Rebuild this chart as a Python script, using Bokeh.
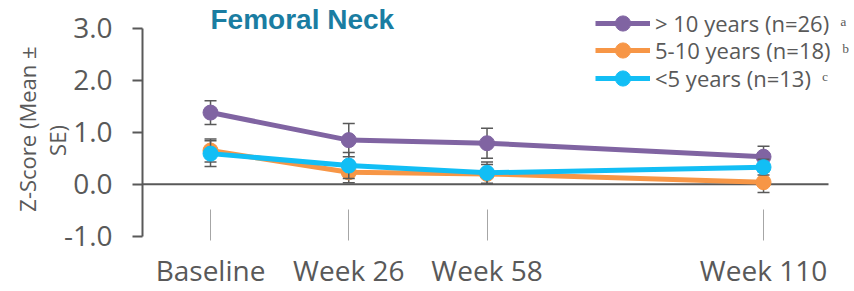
from bokeh.plotting import figure
from bokeh.models import FixedTicker, Label, Legend, LegendItem
from bokeh.embed import file_html
from bokeh.resources import INLINE

# ---- data ----
categories = ["Baseline", "Week 26", "Week 58", "Week 110"]
cat_pos = [0, 1, 2, 4]
y_ticks = [-1, 0, 1, 2, 3]
y_tick_labels = ["-1.0", "0.0", "1.0", "2.0", "3.0"]

series_labels = ["> 10 years (n=26)\u00a0\u00a0\u1d43",
                 "5-10 years (n=18)\u00a0\u00a0\u1d47",
                 "<5 years (n=13)\u00a0\u00a0\u1d9c"]
gt10_mean = [1.38, 0.85, 0.79, 0.53]
gt10_se = [0.23, 0.32, 0.29, 0.20]
mid_mean = [0.65, 0.23, 0.20, 0.04]
mid_se = [0.22, 0.20, 0.18, 0.20]
lt5_mean = [0.59, 0.36, 0.22, 0.33]
lt5_se = [0.25, 0.25, 0.21, 0.15]
series_colors = ["#8064A2", "#F79646", "#12BEF5"]

title_text = "Femoral Neck"
y_title = "Z-Score (Mean \u00b1\u00a0\u00a0\u00a0\nSE)\u00a0\u00a0\u00a0\u00a0\u00a0\u00a0\u00a0"

GRAY = "#595959"
FONT = "Open Sans"
X_START, X_END = -0.492, 4.658
ZERO_END = 4.47
LEGEND_ROW_Y = [198, 171, 143]   # screen offsets of legend rows (layout)

p = figure(width=854, height=291, x_range=(X_START, X_END), y_range=(-1.082, 3.537),
           output_backend="svg", toolbar_location=None,
           min_border_left=142, min_border_right=0, min_border_top=0, min_border_bottom=50)
p.outline_line_color = None
p.xgrid.visible = False
p.ygrid.visible = False

# zero (category axis) line
p.line([X_START, ZERO_END], [0, 0], line_color=GRAY, line_width=2)

for label, mean, se, color, ly in zip(series_labels,
                                      [gt10_mean, mid_mean, lt5_mean],
                                      [gt10_se, mid_se, lt5_se],
                                      series_colors, LEGEND_ROW_Y):
    upper = [m + s for m, s in zip(mean, se)]
    lower = [m - s for m, s in zip(mean, se)]
    lr = p.line(cat_pos, mean, line_color=color, line_width=5)
    p.segment(x0=cat_pos, y0=lower, x1=cat_pos, y1=upper, line_color=GRAY, line_width=1.5)
    p.scatter(cat_pos, upper, marker="dash", size=12, line_color=GRAY, line_width=1.5)
    p.scatter(cat_pos, lower, marker="dash", size=12, line_color=GRAY, line_width=1.5)
    mr = p.scatter(cat_pos, mean, marker="circle", size=15, fill_color=color, line_color=color)
    leg = Legend(items=[LegendItem(label=label, renderers=[lr, mr])], location=(453, ly),
                 label_text_font=FONT, label_text_font_size="22px", label_text_color=GRAY,
                 glyph_width=55, glyph_height=38, label_standoff=5, spacing=0,
                 padding=0, margin=0, border_line_color=None, background_fill_alpha=0)
    p.add_layout(leg)

# y axis
ya = p.yaxis[0]
ya.ticker = FixedTicker(ticks=y_ticks)
ya.major_label_overrides = dict(zip(y_ticks, y_tick_labels))
ya.bounds = (-1, 3)
ya.axis_line_color = GRAY
ya.axis_line_width = 2
ya.major_tick_line_color = GRAY
ya.major_tick_line_width = 2
ya.major_tick_out = 10
ya.major_tick_in = 0
ya.minor_tick_line_color = None
ya.major_label_text_font = FONT
ya.major_label_text_font_size = "28px"
ya.major_label_text_color = GRAY
ya.major_label_standoff = 20
ya.axis_label = y_title
ya.axis_label_text_font = FONT
ya.axis_label_text_font_size = "22px"
ya.axis_label_text_font_style = "normal"
ya.axis_label_text_color = GRAY
ya.axis_label_text_line_height = 1.0
ya.axis_label_standoff = -11

# x axis
xa = p.xaxis[0]
xa.ticker = FixedTicker(ticks=cat_pos)
xa.major_label_overrides = dict(zip(cat_pos, categories))
xa.axis_line_color = None
xa.major_tick_line_color = "#A6A6A6"
xa.major_tick_line_width = 1
xa.major_tick_in = 31
xa.major_tick_out = 0
xa.minor_tick_line_color = None
xa.major_label_text_font = FONT
xa.major_label_text_font_size = "28px"
xa.major_label_text_color = GRAY
xa.major_label_standoff = 10

# title
p.add_layout(Label(x=0, y=3.17, text=title_text, text_font="Liberation Sans",
                   text_font_style="bold", text_font_size="28px", text_color="#1A7DA2",
                   text_align="left", text_baseline="alphabetic"))

open("out.html", "w").write(file_html(p, INLINE))
